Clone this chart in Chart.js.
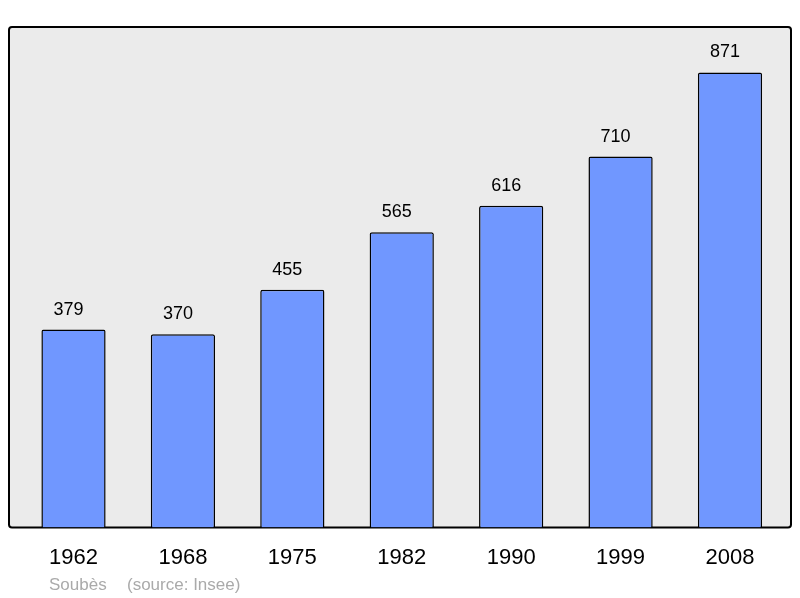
<!DOCTYPE html>
<html lang="fr">
<head>
  <meta charset="utf-8">
  <title>Soubès population</title>
  <script type="text/javascript" src="https://cdn.jsdelivr.net/npm/chart.js"></script>
  <style>
    html, body { margin: 0; padding: 0; background: #fff; }
    #wrap { width: 800px; height: 598px; }
  </style>
</head>
<body>
<div id="wrap"><canvas id="chart"></canvas></div>

<script>
  // Population figures
  const years = ['1962', '1968', '1975', '1982', '1990', '1999', '2008'];
  const population = [379, 370, 455, 565, 616, 710, 871];
  const commune = 'Soubès';
  const source = '(source: Insee)';

  const FONT = '"Liberation Sans", Arial, sans-serif';

  // Grey rounded frame behind the bars, a bit wider than the chart area
  const framePlugin = {
    id: 'frame',
    beforeDraw(chart) {
      const { ctx, chartArea } = chart;
      const x = 9, y = chartArea.top, w = 782, h = chartArea.bottom - chartArea.top;
      ctx.save();
      ctx.beginPath();
      ctx.roundRect(x, y, w, h, 3);
      ctx.fillStyle = '#ebebeb';
      ctx.fill();
      ctx.lineWidth = 2;
      ctx.strokeStyle = '#000';
      ctx.stroke();
      ctx.restore();
    },
    afterDatasetsDraw(chart) {
      const { ctx } = chart;
      const meta = chart.getDatasetMeta(0);
      ctx.save();
      ctx.font = '18px ' + FONT;
      ctx.fillStyle = '#000';
      ctx.textAlign = 'center';
      ctx.textBaseline = 'middle';
      // value labels sit a little left of the bar centre in the original
      meta.data.forEach((bar, i) => {
        ctx.fillText(String(population[i]), bar.x - 5, bar.y - 20);
      });
      // footer
      ctx.font = '17px ' + FONT;
      ctx.fillStyle = '#aaaaaa';
      ctx.textAlign = 'left';
      ctx.textBaseline = 'alphabetic';
      ctx.fillText(commune, 49, 590);
      ctx.fillText(source, 127, 590);
      ctx.restore();
    }
  };

  new Chart(document.getElementById('chart'), {
    type: 'bar',
    data: {
      labels: years,
      datasets: [{
        data: population,
        backgroundColor: '#7097ff',
        borderColor: '#000',
        borderWidth: 1.5,
        borderRadius: 2,
        borderSkipped: 'bottom',
        barPercentage: 1,
        categoryPercentage: 0.587
      }]
    },
    options: {
      responsive: true,
      maintainAspectRatio: false,
      animation: false,
      layout: { padding: { left: 18.8, right: 15.3, top: 27, bottom: 10 } },
      plugins: { legend: { display: false }, tooltip: { enabled: false } },
      scales: {
        x: {
          grid: { display: false, drawTicks: false },
          border: { display: false },
          ticks: { color: '#000', font: { size: 22, family: FONT }, padding: 17, maxRotation: 0 }
        },
        y: {
          display: false,
          min: 0,
          max: 958
        }
      }
    },
    plugins: [framePlugin]
  });
</script>
</body>
</html>
